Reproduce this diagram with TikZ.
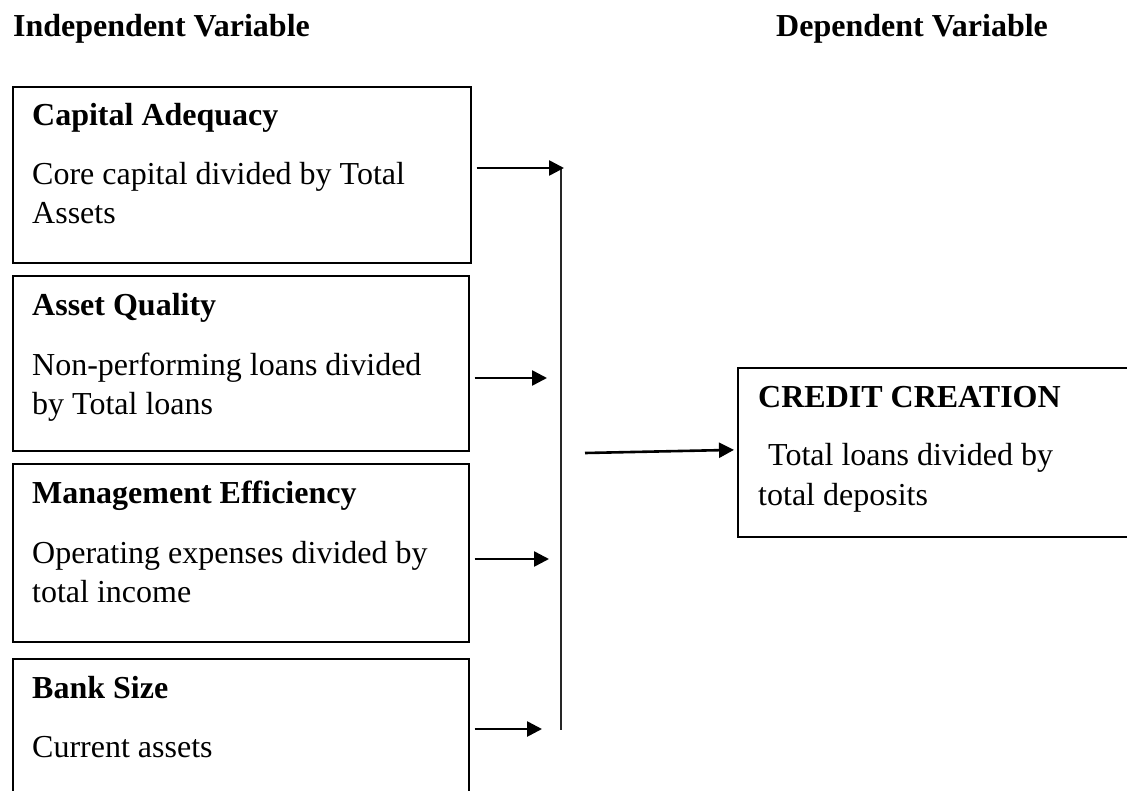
\documentclass[tikz,border=0pt]{standalone}
\usepackage{fontspec}
\setmainfont{Liberation Serif}
\usetikzlibrary{arrows.meta,positioning}
\tikzset{
  varbox/.style={draw,line width=1.6pt,inner sep=0pt,anchor=north west},
  boxtitle/.style={anchor=base west,inner sep=0pt,font=\bfseries\fontsize{32}{39}\selectfont},
  boxtext/.style={anchor=base west,inner sep=0pt,font=\fontsize{32}{39}\selectfont},
  link/.style={-{Triangle[length=15pt,width=15pt]},line width=2.6pt,shorten <=5pt},
  bus/.style={line width=1.3pt,black!85},
}
\begin{document}
\begin{tikzpicture}[x=1pt,y=-1pt]
    \useasboundingbox (0,0) rectangle (1127,790);
    % headings
    \node[boxtitle] (indep) at (13,36) {Independent Variable};
    \node[boxtitle] (dep) at (776,36) {Dependent Variable};
    % independent variables
    \node[varbox,minimum width=458pt,minimum height=176pt] (cap) at (12,86) {};
    \node[boxtitle] (capT) at (32,125) {Capital Adequacy};
    \node[boxtext] (capA) at (32,184) {Core capital divided by Total};
    \node[boxtext] (capB) at (32,223) {Assets};
    \node[varbox,minimum width=456pt,minimum height=175pt] (asq) at (12,275) {};
    \node[boxtitle] (asqT) at (32,315) {Asset Quality};
    \node[boxtext] (asqA) at (32,375) {Non-performing loans divided};
    \node[boxtext] (asqB) at (32,414) {by Total loans};
    \node[varbox,minimum width=456pt,minimum height=178pt] (mgt) at (12,463) {};
    \node[boxtitle] (mgtT) at (32,503) {Management Efficiency};
    \node[boxtext] (mgtA) at (32,563) {Operating expenses divided by};
    \node[boxtext] (mgtB) at (32,602) {total income};
    \node[varbox,minimum width=456pt,minimum height=200pt] (size) at (12,658) {};
    \node[boxtitle] (sizeT) at (32,698) {Bank Size};
    \node[boxtext] (sizeA) at (32,757) {Current assets};
    % dependent variable
    \node[varbox,minimum width=410pt,minimum height=169pt] (credit) at (737,367) {};
    \node[boxtitle] (creditT) at (758,407) {CREDIT CREATION};
    \node[boxtext] (creditA) at (768,465) {Total loans divided by};
    \node[boxtext] (creditB) at (758,505) {total deposits};
    % connectors
    \coordinate (t1) at (564,168);
    \coordinate (t2) at (547,378);
    \coordinate (t3) at (549,559);
    \coordinate (t4) at (542,729);
    \coordinate (bustop) at (561,168);
    \coordinate (busbot) at (561,730);
    \coordinate (join) at (585,453);
    \draw[bus] (bustop) -- (busbot);
    \draw[link] (cap.east |- t1) -- (t1);
    \draw[link] (asq.east |- t2) -- (t2);
    \draw[link] (mgt.east |- t3) -- (t3);
    \draw[link] (size.east |- t4) -- (t4);
    \draw[link,shorten <=0pt,shorten >=3pt] (join) -- ([yshift=2.5pt]credit.west);
\end{tikzpicture}
\end{document}
